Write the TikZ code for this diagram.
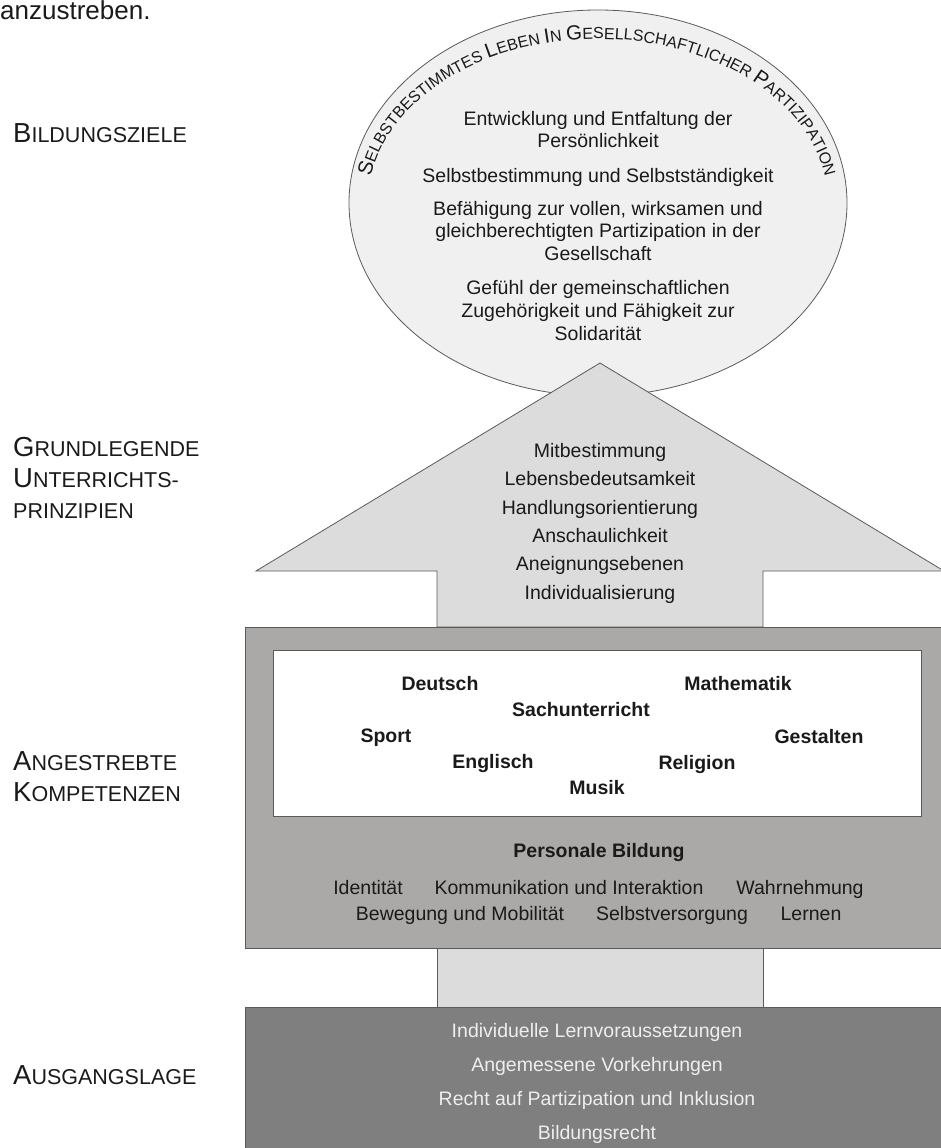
\documentclass[tikz,border=0pt]{standalone}
\usepackage{fontspec}
\setmainfont{Liberation Sans}
\usetikzlibrary{decorations.text, shapes.geometric}
\definecolor{ellfill}{HTML}{F0F0F0}
\definecolor{arrfill}{HTML}{DCDCDC}
\definecolor{boxfill}{HTML}{ABA8A8}
\definecolor{darkfill}{HTML}{7F7F7F}
\definecolor{linec}{HTML}{5A5A5A}
\definecolor{lighttext}{HTML}{EEEEEE}
\definecolor{txtc}{HTML}{1A1A1A}
\newcommand{\fsz}[1]{\fontsize{#1}{#1}\selectfont}
\newcommand{\scl}[2]{{\fsz{27.5}#1}{\fsz{21.5}#2}}
\begin{document}
\begin{tikzpicture}[x=1pt,y=-1pt,
  ln/.style={font=\fsz{19.5}, text=txtc, anchor=base, inner sep=0pt},
  subj/.style={font=\bfseries\fsz{19.5}, text=txtc, anchor=base, inner sep=0pt},
  lbl/.style={anchor=base west, inner sep=0pt, text=txtc},
  btxt/.style={font=\fsz{19.5}, text=lighttext, anchor=base, inner sep=0pt},
  outl/.style={draw=linec, line width=0.8pt}]
\useasboundingbox (0,0) rectangle (941,1148);

% top text fragment
\node[lbl, font=\fsz{26}] (frag) at (0,20) {anzustreben.};

% left labels
\node[lbl] (l1) at (13,142) {\scl{B}{ILDUNGSZIELE}};
\node[lbl] (l2a) at (13,456) {\scl{G}{RUNDLEGENDE}};
\node[lbl] (l2b) at (13,487) {\scl{U}{NTERRICHTS-}};
\node[lbl] (l2c) at (13,518) {{\fsz{21.5}PRINZIPIEN}};
\node[lbl] (l3a) at (13,770) {\scl{A}{NGESTREBTE}};
\node[lbl] (l3b) at (13,801) {\scl{K}{OMPETENZEN}};
\node[lbl] (l4) at (13,1084) {\scl{A}{USGANGSLAGE}};

% ellipse
\node[ellipse, outl, fill=ellfill, minimum width=498pt, minimum height=386pt, inner sep=0pt] (goal) at (598,203) {};
\path[decorate, decoration={text along path, text align=center, text color=txtc,
  text={|\fsz{20.5}|S|\fsz{16}|ELBSTBESTIMMTES |\fsz{20.5}|L|\fsz{16}|EBEN |\fsz{20.5}|I|\fsz{16}|N |\fsz{20.5}|G|\fsz{16}|ESELLSCHAFTLICHER |\fsz{20.5}|P|\fsz{16}|ARTIZIPATION}}]
  (goal.center) ++(180:230pt and 164pt) arc[start angle=180, end angle=0, x radius=230pt, y radius=164pt];

\node[ln] (g1) at (598,125) {Entwicklung und Entfaltung der};
\node[ln] (g2) at (598,147) {Persönlichkeit};
\node[ln] (g3) at (598,182) {Selbstbestimmung und Selbstständigkeit};
\node[ln] (g4) at (598,215) {Befähigung zur vollen, wirksamen und};
\node[ln] (g5) at (598,237) {gleichberechtigten Partizipation in der};
\node[ln] (g6) at (598,260) {Gesellschaft};
\node[ln] (g7) at (598,294) {Gefühl der gemeinschaftlichen};
\node[ln] (g8) at (598,317) {Zugehörigkeit und Fähigkeit zur};
\node[ln] (g9) at (598,340) {Solidarität};

% arrow
\draw[outl, fill=arrfill] (600,363) -- (944,571) -- (763,571) -- (763,627) -- (437,627) -- (437,571) -- (256,571) -- cycle;
\node[ln] (p1) at (600,457) {Mitbestimmung};
\node[ln] (p2) at (600,485) {Lebensbedeutsamkeit};
\node[ln] (p3) at (600,514) {Handlungsorientierung};
\node[ln] (p4) at (600,542) {Anschaulichkeit};
\node[ln] (p5) at (600,570) {Aneignungsebenen};
\node[ln] (p6) at (600,599) {Individualisierung};

% lower shaft
\draw[outl, fill=arrfill] (437,946) rectangle (763,1007);

% competence box
\node[outl, fill=boxfill, anchor=north west, minimum width=702pt, minimum height=321pt, inner sep=0pt] (komp) at (245,627) {};
\node[outl, fill=white, anchor=north west, minimum width=648pt, minimum height=166pt, inner sep=0pt] (fach) at (273,650) {};
\node[subj] (s1) at (440,690) {Deutsch};
\node[subj] (s2) at (738,690) {Mathematik};
\node[subj] (s3) at (581,716) {Sachunterricht};
\node[subj] (s4) at (386,742) {Sport};
\node[subj] (s5) at (819,743) {Gestalten};
\node[subj] (s6) at (493,768) {Englisch};
\node[subj] (s7) at (697,769) {Religion};
\node[subj] (s8) at (597,794) {Musik};
\node[subj] (pb) at (599,857) {Personale Bildung};
\node[ln] (k1) at (368,894) {Identität};
\node[ln] (k2) at (569,894) {Kommunikation und Interaktion};
\node[ln] (k3) at (800,894) {Wahrnehmung};
\node[ln] (k4) at (460,920) {Bewegung und Mobilität};
\node[ln] (k5) at (672,920) {Selbstversorgung};
\node[ln] (k6) at (811,920) {Lernen};

% base box
\node[outl, fill=darkfill, anchor=north west, minimum width=702pt, minimum height=150pt, inner sep=0pt] (base) at (245,1007) {};
\node[btxt] (b1) at (597,1037) {Individuelle Lernvoraussetzungen};
\node[btxt] (b2) at (597,1071) {Angemessene Vorkehrungen};
\node[btxt] (b3) at (597,1105) {Recht auf Partizipation und Inklusion};
\node[btxt] (b4) at (597,1139) {Bildungsrecht};
\end{tikzpicture}
\end{document}
